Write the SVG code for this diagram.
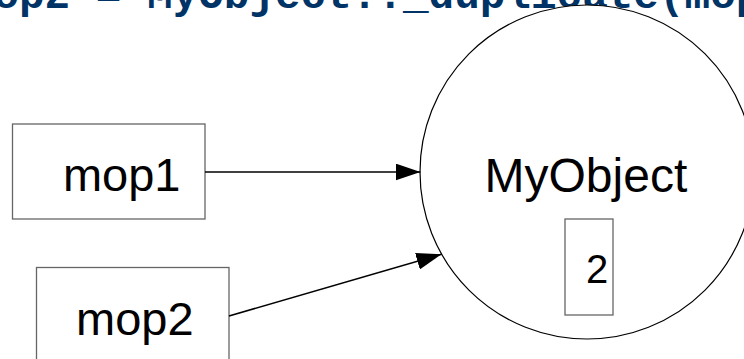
<svg xmlns="http://www.w3.org/2000/svg" width="744" height="359" viewBox="0 0 744 359">
<style>
.code{font-family:"Liberation Mono","Courier New",monospace;font-weight:bold;font-size:42.67px;fill:#003366}
.lbl{font-family:"Liberation Sans",Arial,sans-serif;fill:#000}
.box{fill:#fff;stroke:#666;stroke-width:1.3}
.edge{fill:none;stroke:#000;stroke-width:1.6}
</style>
<defs>
<marker id="ah" viewBox="0 0 25 17" refX="25" refY="8.5" markerWidth="25" markerHeight="17" markerUnits="userSpaceOnUse" orient="auto">
<path d="M0,0 L25,8.5 L0,17 z" fill="#000"/>
</marker>
</defs>
<rect width="744" height="359" fill="#fff"/>
<text class="code" x="-32.2" y="8">mop2 = MyObject::_duplicate(mop1);</text>
<g id="myobject">
<circle cx="587" cy="172" r="167" fill="#fff" stroke="#000" stroke-width="1.2"/>
<text class="lbl" x="484.5" y="192" font-size="48">MyObject</text>
<rect class="box" x="565" y="219" width="48" height="96"/>
<text class="lbl" x="586" y="283" font-size="40">2</text>
</g>
<g id="mop1">
<rect class="box" x="12.5" y="124" width="192.5" height="95"/>
<text class="lbl" x="62.9" y="191" font-size="47">mop1</text>
</g>
<g id="mop2">
<rect class="box" x="36.5" y="267.5" width="192.5" height="95"/>
<text class="lbl" x="76" y="335" font-size="47">mop2</text>
</g>
<g id="connectors">
<line class="edge" x1="205" y1="172" x2="420.5" y2="172" marker-end="url(#ah)"/>
<line class="edge" x1="229" y1="316" x2="441.5" y2="254.3" marker-end="url(#ah)"/>
</g>
</svg>
